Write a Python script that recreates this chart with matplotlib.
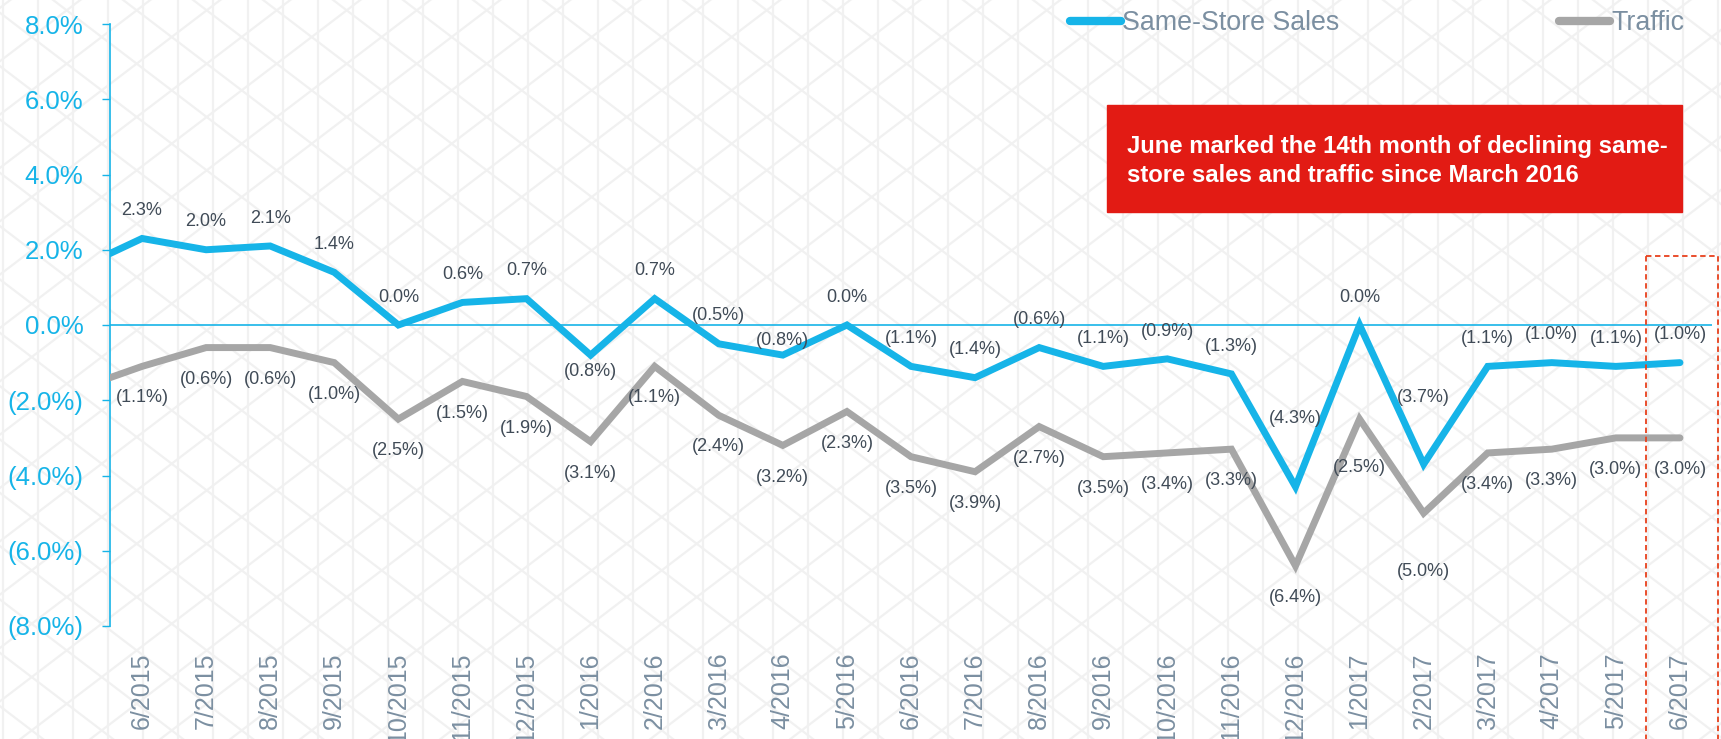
import numpy as np
import matplotlib
matplotlib.use("Agg")
import matplotlib.pyplot as plt
from matplotlib import font_manager
from matplotlib.lines import Line2D
from matplotlib.patches import Rectangle

# monthly data, 6/2015 - 6/2017 (percent)
months = ['6/2015', '7/2015', '8/2015', '9/2015', '10/2015', '11/2015', '12/2015',
          '1/2016', '2/2016', '3/2016', '4/2016', '5/2016', '6/2016', '7/2016',
          '8/2016', '9/2016', '10/2016', '11/2016', '12/2016', '1/2017', '2/2017',
          '3/2017', '4/2017', '5/2017', '6/2017']
same_store_sales = [2.3, 2.0, 2.1, 1.4, 0.0, 0.6, 0.7, -0.8, 0.7, -0.5, -0.8, 0.0, -1.1,
                    -1.4, -0.6, -1.1, -0.9, -1.3, -4.3, 0.0, -3.7, -1.1, -1.0, -1.1, -1.0]
traffic = [-1.1, -0.6, -0.6, -1.0, -2.5, -1.5, -1.9, -3.1, -1.1, -2.4, -3.2, -2.3, -3.5,
           -3.9, -2.7, -3.5, -3.4, -3.3, -6.4, -2.5, -5.0, -3.4, -3.3, -3.0, -3.0]
# 5/2015 values, only the stub entering the plot at the left edge is visible
prev_sss = 1.5
prev_traffic = -1.7

y_ticks = [-8, -6, -4, -2, 0, 2, 4, 6, 8]

CYAN = '#16B4E8'
GREY = '#A6A6A6'
LABEL = '#404B57'
AXIS_TXT = '#7B8FA1'
RED = '#E21B14'

names = {f.name for f in font_manager.fontManager.ttflist}
base_font = 'Liberation Sans' if 'Liberation Sans' in names else 'DejaVu Sans'
plt.rcParams['font.family'] = [base_font, 'DejaVu Sans']


def pct(v):
    if v < 0:
        return f'({abs(v):.1f}%)'
    return f'{v:.1f}%'


W, H = 1721, 739
fig = plt.figure(figsize=(W / 100, H / 100), dpi=100)
fig.patch.set_facecolor('white')

# background triangle lattice, drawn in pixel space
bg = fig.add_axes([0, 0, 1, 1], zorder=-1)
bg.set_xlim(0, W)
bg.set_ylim(H, 0)
bg.axis('off')
dx, dy = 35.0, 26.67
pat_kw = dict(color='#F1F1F1', lw=1.6, zorder=0)
for x in np.arange(3.3, W + dx, dx):
    bg.plot([x, x], [0, H], **pat_kw)
slope = dy / dx
for c in np.arange(-3000, 3000, 2 * dy):
    y0 = 450 + c + slope * 3.3
    bg.plot([0, W], [y0, y0 + slope * W], **pat_kw)
    y1 = 450 + c - slope * 3.3
    bg.plot([0, W], [y1, y1 - slope * W], **pat_kw)

# red call-out box
bg.add_patch(Rectangle((1107, 105), 575, 107, color=RED, zorder=2))
bg.text(1127, 146, 'June marked the 14th month of declining same-', color='white',
        fontsize=17.2, fontweight='bold', va='center', ha='left', zorder=3)
bg.text(1127, 175, 'store sales and traffic since March 2016', color='white',
        fontsize=17.2, fontweight='bold', va='center', ha='left', zorder=3)

ax = fig.add_axes([110 / W, 1 - 626 / H, 1602 / W, 602 / H])
ax.set_facecolor('none')

x = np.arange(len(months))
xs = np.concatenate([[-1], x])
ax.plot(xs, [prev_sss] + same_store_sales, color=CYAN, lw=5, solid_joinstyle='miter',
        solid_capstyle='round', zorder=4)
ax.plot(xs, [prev_traffic] + traffic, color=GREY, lw=5, solid_joinstyle='miter',
        solid_capstyle='round', zorder=3)
ax.axhline(0, color=CYAN, lw=1.2, zorder=2)

# data labels: sales above, traffic below, a few moved by hand
sss_offset = {7: -0.43, 10: 0.38, 18: 1.82, 20: 1.78}
trf_offset = {19: -1.3, 20: -1.54}
for i, v in enumerate(same_store_sales):
    ax.text(i, v + sss_offset.get(i, 0.74), pct(v), ha='center', va='center',
            fontsize=13, color=LABEL, zorder=6)
for i, v in enumerate(traffic):
    ax.text(i, v + trf_offset.get(i, -0.84), pct(v), ha='center', va='center',
            fontsize=13, color=LABEL, zorder=6)

ax.set_xlim(-0.5, len(months) - 0.5)
ax.set_ylim(-8, 8)
ax.set_yticks(y_ticks)
ax.set_yticklabels([pct(v) for v in y_ticks])
ax.set_xticks(x)
ax.set_xticklabels(months, rotation=90, va='top', ha='center')
ax.tick_params(axis='y', direction='out', length=6, width=1, color=CYAN,
               labelcolor=CYAN, labelsize=18.5, pad=13)
ax.tick_params(axis='x', length=0, labelcolor=AXIS_TXT, labelsize=18, pad=19)
for s in ['top', 'right', 'bottom']:
    ax.spines[s].set_visible(False)
ax.spines['left'].set_color(CYAN)
ax.spines['left'].set_linewidth(1.2)

handles = [Line2D([], [], color=CYAN, lw=6, solid_capstyle='round'),
           Line2D([], [], color=GREY, lw=6, solid_capstyle='round')]
fig.legend(handles, ['Same-Store Sales', 'Traffic'], loc='center left',
           bbox_to_anchor=(1070 / W, 1 - 23 / H), ncol=2, frameon=False,
           handlelength=1.9, handletextpad=0.05, columnspacing=8.2,
           fontsize=19.3, labelcolor=AXIS_TXT, borderaxespad=0, borderpad=0)

# dashed marker around the latest month
fig.add_artist(Rectangle((1646, 256), 72, 500, fill=False, edgecolor='#E8401C',
                         lw=1.3, ls=(0, (3, 2)), transform=bg.transData, zorder=5))

fig.savefig('out.png', dpi=100)
